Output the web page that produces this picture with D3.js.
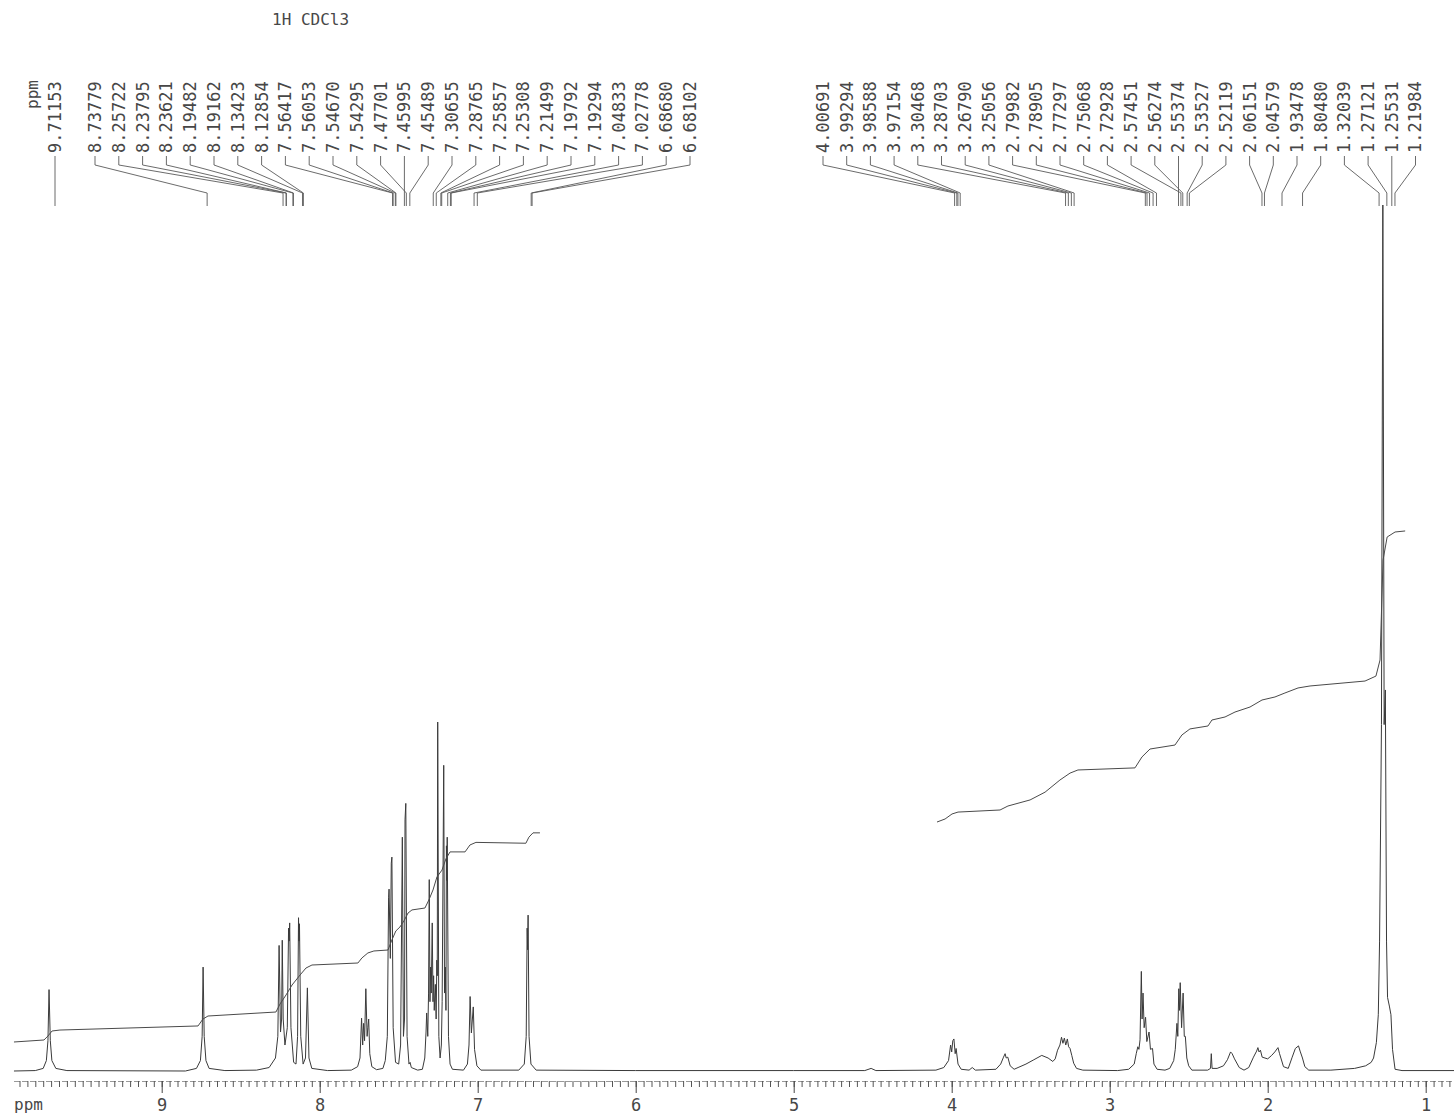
<!DOCTYPE html>
<html>
<head>
<meta charset="utf-8">
<script src="https://cdn.jsdelivr.net/npm/d3@7"></script>
<style>
  body { margin: 0; background: #fff; }
  text { font-family: "DejaVu Sans Mono", "Liberation Mono", monospace; fill: #474747; }
</style>
</head>
<body>
<div class="chart"></div>
<script>
// spectrum title and peak picking labels (ppm)
const title = "1H CDCl3";
const peakLabelsLone = [9.71153];
const peakLabelsArom = [8.73779, 8.25722, 8.23795, 8.23621, 8.19482, 8.19162, 8.13423, 8.12854,
  7.56417, 7.56053, 7.54670, 7.54295, 7.47701, 7.45995, 7.45489, 7.30655, 7.28765, 7.25857,
  7.25308, 7.21499, 7.19792, 7.19294, 7.04833, 7.02778, 6.68680, 6.68102];
const peakLabelsAliph = [4.00691, 3.99294, 3.98588, 3.97154, 3.30468, 3.28703, 3.26790, 3.25056,
  2.79982, 2.78905, 2.77297, 2.75068, 2.72928, 2.57451, 2.56274, 2.55374, 2.53527, 2.52119,
  2.06151, 2.04579, 1.93478, 1.80480, 1.32039, 1.27121, 1.25531, 1.21984];
const axisLabels = [9, 8, 7, 6, 5, 4, 3, 2, 1];

// spectrum trace [ppm, relative intensity] (100 = top of plot)
const spectrum = [
  [9.935, 0], [9.80, 0.05], [9.75, 0.3], [9.73, 1.2], [9.72, 3.5], [9.713, 9.4], [9.705, 3.5],
  [9.695, 1.2], [9.67, 0.3], [9.60, 0.05],
  [8.85, 0], [8.78, 0.3], [8.755, 1.2], [8.744, 4], [8.738, 12.0], [8.731, 4], [8.72, 1.2], [8.70, 0.3], [8.60, 0.05],
  [8.40, 0.1], [8.32, 0.4], [8.28, 1.5], [8.265, 4], [8.257, 14.5], [8.248, 4.5], [8.241, 6], [8.237, 15.1],
  [8.231, 6], [8.22, 3], [8.205, 5], [8.197, 16.5], [8.193, 15], [8.190, 17.1], [8.182, 5], [8.165, 1.0],
  [8.15, 0.8], [8.140, 4], [8.134, 17.7], [8.131, 15], [8.128, 17.0], [8.12, 4], [8.105, 0.8], [8.09, 1.5],
  [8.078, 9.6], [8.068, 1.5], [8.05, 0.3], [7.95, 0.05],
  [7.80, 0.1], [7.76, 0.5], [7.745, 1.5], [7.735, 6.1], [7.728, 3], [7.722, 5.5], [7.716, 3.5], [7.708, 9.5],
  [7.700, 4], [7.695, 5], [7.690, 6.0], [7.683, 2], [7.67, 0.5], [7.64, 0.15],
  [7.60, 0.3], [7.585, 1.2], [7.572, 4], [7.564, 20.0], [7.561, 21.0], [7.553, 13], [7.547, 24.0],
  [7.543, 24.7], [7.535, 5], [7.52, 1.0], [7.50, 0.8], [7.488, 3], [7.477, 27], [7.470, 4], [7.463, 6],
  [7.460, 29], [7.455, 30.9], [7.447, 4], [7.435, 0.8], [7.428, 1.0], [7.42, 0.4], [7.38, 0.1],
  [7.35, 0.2], [7.335, 1.5], [7.327, 4.5], [7.323, 6.7], [7.316, 4], [7.311, 9], [7.3066, 22.1],
  [7.302, 8], [7.298, 12], [7.294, 9], [7.2877, 17.1], [7.283, 8], [7.279, 11], [7.275, 7],
  [7.268, 10], [7.263, 6], [7.2586, 12.8], [7.256, 11], [7.2531, 40.3], [7.246, 4],
  [7.238, 1.5], [7.230, 3], [7.225, 8], [7.2150, 35.3], [7.210, 9], [7.205, 12], [7.201, 7],
  [7.1979, 26], [7.1955, 22], [7.1929, 27], [7.185, 4], [7.175, 0.8], [7.16, 0.2],
  [7.09, 0.1], [7.065, 0.8], [7.055, 3], [7.048, 8.6], [7.040, 4.4], [7.028, 7.4], [7.020, 2.5],
  [7.005, 0.6], [6.98, 0.1],
  [6.74, 0.1], [6.705, 0.8], [6.693, 4], [6.687, 16.5], [6.684, 14], [6.681, 18.0], [6.675, 4],
  [6.663, 0.8], [6.63, 0.1],
  [6.0, 0.05], [5.0, 0.05], [4.55, 0.05], [4.51, 0.3], [4.48, 0.05], [4.10, 0.1],
  [4.05, 0.4], [4.02, 1.2], [4.007, 3.0], [4.000, 2.2], [3.993, 3.5], [3.986, 3.7], [3.978, 2.0],
  [3.972, 2.6], [3.96, 0.8], [3.94, 0.2], [3.89, 0.1], [3.87, 0.4], [3.85, 0.1],
  [3.72, 0.2], [3.69, 0.8], [3.672, 1.6], [3.662, 2.0], [3.655, 1.5], [3.645, 1.6], [3.63, 0.6], [3.605, 0.2],
  [3.58, 0.4], [3.53, 0.8], [3.48, 1.3], [3.43, 1.8], [3.39, 1.5], [3.36, 1.1], [3.345, 1.4],
  [3.33, 2.4], [3.315, 3.0], [3.305, 3.9], [3.296, 3.2], [3.287, 3.8], [3.278, 3.0], [3.268, 3.7],
  [3.26, 2.8], [3.251, 2.6], [3.24, 1.8], [3.228, 0.9], [3.21, 0.3], [3.17, 0.1], [2.95, 0.05],
  [2.88, 0.2], [2.845, 0.8], [2.832, 2.0], [2.822, 2.8], [2.815, 2.5], [2.808, 3.6], [2.7998, 11.5],
  [2.795, 6], [2.7891, 9.0], [2.782, 5], [2.773, 6.2], [2.765, 3.4], [2.751, 4.5], [2.742, 2.5],
  [2.729, 2.6], [2.72, 0.8], [2.70, 0.2], [2.65, 0.1],
  [2.62, 0.3], [2.595, 1.2], [2.585, 2.5], [2.5745, 5.5], [2.569, 4], [2.5627, 9.5], [2.558, 7],
  [2.5537, 10.2], [2.545, 5], [2.5353, 9.0], [2.528, 4], [2.5212, 4.0], [2.512, 1.5], [2.50, 0.6], [2.48, 0.1],
  [2.38, 0.1], [2.362, 0.3], [2.357, 2.0], [2.352, 0.3], [2.32, 0.3], [2.28, 0.6], [2.255, 1.3],
  [2.235, 2.2], [2.225, 2.0], [2.21, 1.4], [2.18, 0.4], [2.15, 0.1],
  [2.12, 0.4], [2.09, 1.6], [2.07, 2.3], [2.062, 2.7], [2.055, 2.2], [2.046, 2.4], [2.035, 1.6],
  [2.00, 1.4], [1.975, 1.8], [1.955, 2.2], [1.935, 2.7], [1.925, 2.0], [1.90, 0.5], [1.87, 0.3],
  [1.845, 1.6], [1.825, 2.6], [1.805, 2.9], [1.795, 2.3], [1.78, 1.5], [1.765, 0.5], [1.74, 0.1],
  [1.60, 0.1], [1.45, 0.3], [1.38, 0.6], [1.345, 1.0], [1.33, 1.5], [1.312, 3.3], [1.30, 6.5],
  [1.292, 15], [1.28, 40], [1.2712, 100], [1.263, 40], [1.2553, 44], [1.248, 15], [1.2415, 8.5],
  [1.23, 7.5], [1.22, 6.5], [1.21, 2.5], [1.194, 0.2], [1.15, 0.05], [0.82, 0.05]
];

// integral traces [ppm, relative height]
const integralArom = [
  [9.935, 3.35], [9.745, 3.58], [9.720, 4.04], [9.694, 4.62], [9.644, 4.73], [8.770, 5.2], [8.739, 6.0],
  [8.707, 6.35], [8.277, 6.81], [8.251, 7.74], [8.213, 8.78], [8.175, 9.93], [8.124, 11.09], [8.087, 11.89],
  [8.049, 12.24], [7.758, 12.47], [7.733, 13.05], [7.695, 13.63], [7.657, 13.86], [7.568, 13.97],
  [7.543, 15.13], [7.518, 16.17], [7.492, 16.63], [7.467, 17.32], [7.441, 18.24], [7.416, 18.6],
  [7.334, 18.82], [7.309, 19.75], [7.283, 20.9], [7.258, 22.4], [7.226, 23.2], [7.201, 24.5],
  [7.175, 25.3], [7.080, 25.3], [7.049, 26.1], [7.011, 26.4], [6.695, 26.3], [6.676, 27.0],
  [6.650, 27.5], [6.606, 27.5]
];
const integralAliph = [
  [4.093, 28.75], [4.042, 29.1], [3.998, 29.68], [3.960, 29.9], [3.694, 30.14], [3.644, 30.6],
  [3.504, 31.3], [3.409, 32.2], [3.315, 33.6], [3.251, 34.4], [3.201, 34.76], [2.840, 35.0],
  [2.796, 36.26], [2.745, 37.18], [2.587, 37.64], [2.543, 38.8], [2.492, 39.5], [2.378, 39.84],
  [2.353, 40.53], [2.270, 40.88], [2.207, 41.45], [2.112, 42.03], [2.036, 42.84], [1.954, 43.19],
  [1.891, 43.65], [1.808, 44.23], [1.732, 44.46], [1.384, 45.03], [1.315, 45.6], [1.289, 47.46],
  [1.270, 59.0], [1.244, 61.66], [1.194, 62.24], [1.130, 62.36]
];

const width = 1454, height = 1119;
const svg = d3.select(".chart")
  .append("svg")
  .attr("width", width)
  .attr("height", height);

const x = d3.scaleLinear().domain([9, 1]).range([161.7, 1425.7]);
const y = d3.scaleLinear().domain([0, 100]).range([1071, 205]);
const fmt = d3.format(".5f");

// title
svg.append("text")
   .attr("x", 272).attr("y", 25)
   .style("font-size", "16px")
   .text(title);

// spectrum
const line = d3.line()
  .x(d => x(d[0]))
  .y(d => y(d[1]));

svg.append("path")
   .datum(spectrum)
   .attr("d", line)
   .attr("fill", "none")
   .attr("stroke", "#3a3a3a")
   .attr("stroke-width", 1);

// integrals
[integralArom, integralAliph].forEach(data => {
  svg.append("path")
     .datum(data)
     .attr("d", line)
     .attr("fill", "none")
     .attr("stroke", "#4a4a4a")
     .attr("stroke-width", 1);
});

// ppm ruler
const axisY = 1081;
const minor = d3.range(17, 199).map(i => i / 20);
svg.append("g")
   .attr("transform", `translate(0,${axisY})`)
   .call(d3.axisBottom(x).tickValues(minor).tickSize(6).tickSizeOuter(0).tickFormat(""))
   .call(g => g.select(".domain").attr("stroke", "#999").attr("stroke-dasharray", "6,2").attr("d", `M14,0.5H${width}`))
   .call(g => g.selectAll(".tick line").attr("stroke", "#555"));
svg.append("g")
   .attr("transform", `translate(0,${axisY})`)
   .call(d3.axisBottom(x).tickValues(axisLabels).tickSize(12).tickPadding(6).tickFormat(d3.format("d")))
   .call(g => g.select(".domain").remove())
   .call(g => g.selectAll(".tick line").attr("stroke", "#444"))
   .call(g => g.selectAll(".tick text")
      .style("font-family", "'DejaVu Sans Mono', monospace")
      .style("font-size", "17px").attr("fill", "#474747"));
svg.append("text")
   .attr("x", 14).attr("y", 1110)
   .style("font-size", "16px")
   .text("ppm");

// peak labels with connectors
const labelBottom = 153;
function labelGroup(values, x0, step) {
  const g = svg.append("g");
  values.forEach((v, i) => {
    const lx = x0 + step * i;
    let px = x(v) + 4;
    if (Math.abs(px - lx) < 8) px = lx;
    g.append("text")
     .attr("transform", `translate(${lx},${labelBottom}) rotate(-90)`)
     .attr("dy", "0.35em")
     .style("font-size", "17px")
     .text(fmt(v));
    g.append("path")
     .attr("d", `M${lx},${labelBottom + 3}V165L${px},193V206`)
     .attr("fill", "none")
     .attr("stroke", "#5a5a5a")
     .attr("stroke-width", 0.9);
  });
}
labelGroup(peakLabelsLone, 55, 0);
labelGroup(peakLabelsArom, 95, 23.8);
labelGroup(peakLabelsAliph, 823, 23.7);

svg.append("text")
   .attr("transform", `translate(32,80) rotate(-90)`)
   .attr("text-anchor", "end")
   .attr("dy", "0.35em")
   .style("font-size", "16px")
   .text("ppm");
</script>
</body>
</html>
